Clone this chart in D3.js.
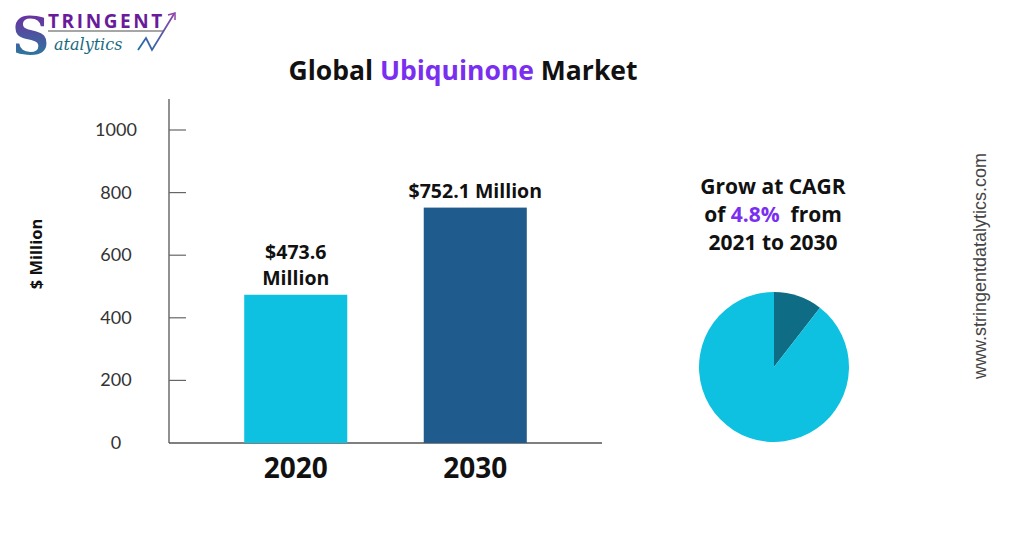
<!DOCTYPE html>
<html><head><meta charset="utf-8">
<script src="https://cdn.jsdelivr.net/npm/d3@7"></script>
<style>body{margin:0;background:#fff}svg{display:block}</style>
</head><body>
<svg id="c" width="1024" height="535"></svg>
<script>
const categories = ["2020", "2030"];
const values = [473.6, 752.1];
const valueLabels = [["$473.6", "Million"], ["$752.1 Million"]];
const yTicks = [0, 200, 400, 600, 800, 1000];
const pieShares = [10.5, 89.5];
const barColors = ["#0fc1e0", "#1f5b8c"];
const pieColors = ["#0e6c84", "#0fc1e0"];

const svg = d3.select("#c");
const F = "'Open Sans', 'Noto Sans', sans-serif";

// Logo
const defs = svg.append("defs");
const g1 = defs.append("linearGradient").attr("id","sg").attr("x1",0).attr("y1",0).attr("x2",0).attr("y2",1);
g1.append("stop").attr("offset","0%").attr("stop-color","#7b1fa2");
g1.append("stop").attr("offset","100%").attr("stop-color","#1c8a9c");
const g2 = defs.append("linearGradient").attr("id","ag").attr("x1",0).attr("y1",1).attr("x2",1).attr("y2",0);
g2.append("stop").attr("offset","0%").attr("stop-color","#1d6fa5");
g2.append("stop").attr("offset","100%").attr("stop-color","#8e44ad");
svg.append("text").attr("x",12).attr("y",54).attr("font-family","'DejaVu Serif', serif").attr("font-size",52).attr("font-weight","bold").attr("fill","url(#sg)").text("S");
svg.append("text").attr("x",48).attr("y",28).attr("font-family",F).attr("font-size",19).attr("font-weight","bold").attr("letter-spacing",2.6).attr("fill","#6a1b9a").text("TRINGENT");
svg.append("line").attr("x1",48).attr("x2",164).attr("y1",31).attr("y2",31).attr("stroke","#888").attr("stroke-width",1.5);
svg.append("text").attr("x",54).attr("y",50).attr("font-family","'DejaVu Serif', serif").attr("font-style","italic").attr("font-size",16).attr("fill","#1a6b80").text("atalytics");
svg.append("polyline").attr("points","138,50 146,38 152,50 174,14").attr("fill","none").attr("stroke","url(#ag)").attr("stroke-width",1.8);
svg.append("polyline").attr("points","168,15 175,13 175,20").attr("fill","none").attr("stroke","#8e44ad").attr("stroke-width",1.5);

// Title
const title = svg.append("text").attr("x",463).attr("y",80).attr("text-anchor","middle").attr("font-family",F).attr("font-weight","bold").attr("font-size",26.5).attr("fill","#111");
title.append("tspan").text("Global ");
title.append("tspan").attr("fill","#7a2ff0").text("Ubiquinone");
title.append("tspan").text(" Market");

// Scales
const x = d3.scaleBand().domain(categories).range([169, 602]).paddingInner(0.426).paddingOuter(0.419);
const y = d3.scaleLinear().domain([0, 1000]).range([443, 130]);

// Axis lines
svg.append("line").attr("x1",169).attr("x2",169).attr("y1",99).attr("y2",443).attr("stroke","#555").attr("stroke-width",1.3);
svg.append("line").attr("x1",169).attr("x2",602).attr("y1",443).attr("y2",443).attr("stroke","#555").attr("stroke-width",1.3);
svg.selectAll(".tk").data(yTicks.filter(d=>d>0)).enter().append("line")
  .attr("x1",169).attr("x2",186).attr("y1",d=>y(d)).attr("y2",d=>y(d)).attr("stroke","#666").attr("stroke-width",1.2);
svg.selectAll(".tl").data(yTicks).enter().append("text").attr("x",116).attr("y",d=>y(d)+6)
  .attr("text-anchor","middle").attr("font-family","Lato, 'Open Sans', sans-serif").attr("font-size",18).attr("fill","#333").text(d=>d);

svg.append("text").attr("transform","translate(42,254) rotate(-90)").attr("text-anchor","middle")
  .attr("font-family",F).attr("font-weight","bold").attr("font-size",16.5).attr("fill","#111").text("$ Million");

// Bars
svg.selectAll(".bar").data(values).enter().append("rect")
  .attr("x",(d,i)=>x(categories[i])).attr("width",x.bandwidth())
  .attr("y",d=>y(d)).attr("height",d=>443-y(d)).attr("fill",(d,i)=>barColors[i]);

// Category labels
svg.selectAll(".cl").data(categories).enter().append("text")
  .attr("x",d=>x(d)+x.bandwidth()/2).attr("y",478).attr("text-anchor","middle")
  .attr("font-family",F).attr("font-weight","bold").attr("font-size",28).attr("fill","#111").text(d=>d);

// Value labels
values.forEach((v,i)=>{
  const lines = valueLabels[i];
  const cx = x(categories[i]) + x.bandwidth()/2;
  const top = y(v) - 10 - (lines.length-1)*26;
  lines.forEach((t,j)=>{
    svg.append("text").attr("x",cx).attr("y",top + j*26).attr("text-anchor","middle")
      .attr("font-family",F).attr("font-weight","bold").attr("font-size",19.5).attr("fill","#111").text(t);
  });
});

// CAGR text
const ct = svg.append("g").attr("font-family",F).attr("font-weight","bold").attr("font-size",21).attr("fill","#111").attr("text-anchor","middle");
ct.append("text").attr("x",773).attr("y",194).text("Grow at CAGR");
const l2 = ct.append("text").attr("x",773).attr("y",222);
l2.append("tspan").text("of ");
l2.append("tspan").attr("fill","#7a2ff0").text("4.8%");
l2.append("tspan").text("\u00a0 from");
ct.append("text").attr("x",773).attr("y",250).text("2021 to 2030");

// Pie
const pie = d3.pie().sort(null)(pieShares);
const arc = d3.arc().innerRadius(0).outerRadius(75);
svg.append("g").attr("transform","translate(774,367)").selectAll("path").data(pie).enter().append("path")
  .attr("d",arc).attr("fill",(d,i)=>pieColors[i]);

// Website
svg.append("text").attr("transform","translate(986,266) rotate(-90)").attr("text-anchor","middle")
  .attr("font-family","'Liberation Sans', Arial, sans-serif").attr("font-size",18).attr("fill","#444").text("www.stringentdatalytics.com");
</script>
</body></html>
